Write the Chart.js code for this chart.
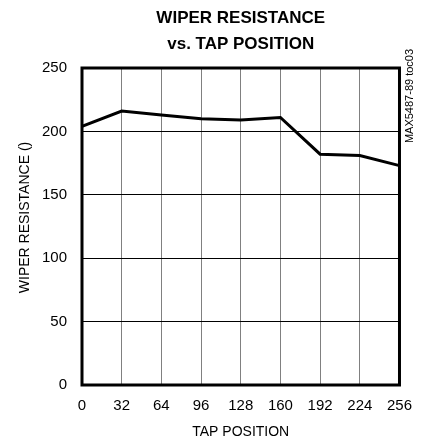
<!DOCTYPE html>
<html>
<head>
<meta charset="utf-8">
<script src="https://cdn.jsdelivr.net/npm/chart.js@4/dist/chart.umd.min.js"></script>
<style>
  html, body { margin: 0; padding: 0; background: #fff; }
  #wrap { width: 424px; height: 445px; }
</style>
</head>
<body>
<div id="wrap"><canvas id="wiperChart" width="424" height="445"></canvas></div>
<script>
// data
const tapPositions = [0, 32, 64, 96, 128, 160, 192, 224, 256];
const wiperResistance = [204, 216, 213, 210, 209, 211, 182, 181, 173];
const xTickValues = [0, 32, 64, 96, 128, 160, 192, 224, 256];
const yTickValues = [0, 50, 100, 150, 200, 250];
const titleLines = ["WIPER RESISTANCE", "vs. TAP POSITION"];
const xTitle = "TAP POSITION";
const yTitle = "WIPER RESISTANCE ()";
const sideNote = "MAX5487-89 toc03";

const FONT = "'Liberation Sans', Arial, sans-serif";

// white background, titles, frame and the little part-number note
const decorPlugin = {
    id: "decor",
    beforeDraw(chart) {
        const ctx = chart.ctx;
        ctx.save();
        ctx.fillStyle = "#fff";
        ctx.fillRect(0, 0, chart.width, chart.height);
        ctx.restore();
    },
    afterDraw(chart) {
        const { ctx, chartArea: a } = chart;
        ctx.save();
        ctx.fillStyle = "#000";
        ctx.textAlign = "center";
        ctx.textBaseline = "middle";

        // title
        ctx.font = "bold 17px " + FONT;
        const cx = (a.left + a.right) / 2;
        titleLines.forEach((t, i) => ctx.fillText(t, cx, 18 + i * 26));

        // frame around the plot
        ctx.strokeStyle = "#000";
        ctx.lineWidth = 3;
        ctx.strokeRect(a.left, a.top, a.right - a.left, a.bottom - a.top);

        // y axis title (sits a bit above the plot centre in the original)
        ctx.save();
        ctx.font = "14px " + FONT;
        ctx.translate(25, (a.top + a.bottom) / 2 - 9);
        ctx.rotate(-Math.PI / 2);
        ctx.fillText(yTitle, 0, 0);
        ctx.restore();

        // vertical note on the right
        ctx.font = "11px " + FONT;
        ctx.translate(a.right + 10, 96);
        ctx.rotate(-Math.PI / 2);
        ctx.fillText(sideNote, 0, 0);
        ctx.restore();
    }
};

new Chart(document.getElementById("wiperChart"), {
    type: "line",
    data: {
        datasets: [{
            data: tapPositions.map((x, i) => ({ x: x, y: wiperResistance[i] })),
            borderColor: "#000",
            borderWidth: 3,
            pointRadius: 0,
            tension: 0,
            fill: false
        }]
    },
    options: {
        responsive: false,
        animation: false,
        devicePixelRatio: 1,
        layout: { padding: { top: 68, right: 24, left: 0, bottom: 0 } },
        plugins: {
            legend: { display: false },
            title: { display: false },
            tooltip: { enabled: false }
        },
        scales: {
            x: {
                type: "linear",
                min: 0,
                max: 256,
                afterFit: (s) => { s.height = 60; },
                afterBuildTicks: (s) => { s.ticks = xTickValues.map(v => ({ value: v })); },
                grid: { color: "#808080", lineWidth: 1, drawTicks: false },
                border: { display: false },
                ticks: { color: "#000", font: { family: FONT, size: 15 }, padding: 12, maxRotation: 0 },
                title: {
                    display: true, text: xTitle, color: "#000",
                    font: { family: FONT, size: 14 }, padding: { top: 0, bottom: 4 }
                }
            },
            y: {
                min: 0,
                max: 250,
                afterFit: (s) => { s.width = 82; },
                afterBuildTicks: (s) => { s.ticks = yTickValues.map(v => ({ value: v })); },
                grid: { color: "#000", lineWidth: 1, drawTicks: false },
                border: { display: false },
                ticks: { color: "#000", font: { family: FONT, size: 15 }, padding: 15 },
                title: { display: false }
            }
        }
    },
    plugins: [decorPlugin]
});
</script>
</body>
</html>
